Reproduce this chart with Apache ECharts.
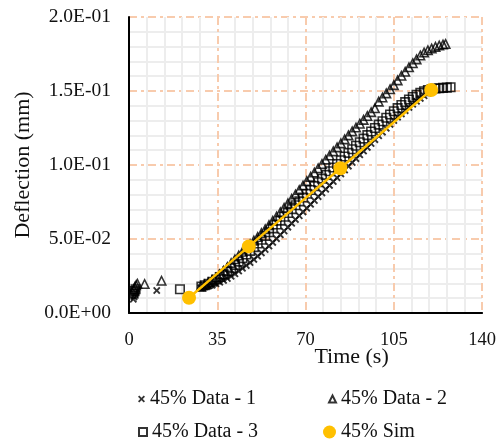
<!DOCTYPE html>
<html>
<head>
<meta charset="utf-8">
<script src="https://cdn.jsdelivr.net/npm/echarts@6/dist/echarts.min.js"></script>
<style>
html,body{margin:0;padding:0;background:#fff;}
#chart{width:499px;height:445px;}
</style>
</head>
<body>
<div id="chart"></div>
<script>
// ---- data ----
var xTicks = [0, 35, 70, 105, 140];
var yTicks = [0, 0.05, 0.10, 0.15, 0.20];

var data1Time = [1.7, 2.0, 2.3, 2.6, 11.0,
  28.5,30,31.5,33,34.5,36,37.5,39,40.5,42,43.5,45,46.5,48,49.5,51,52.5,54,55.5,57,58.5,60,61.5,63,64.5,66,67.5,69,70.5,72,73.5,75,76.5,78,79.5,81,82.5,84,85.5,87,88.5,90,91.5,93,94.5,96,97.5,99,100.5,102,103.5,105,106.5,108,109.5,111,112.5,114,115.5,117,118.5,120];
var data1Defl = [0.0093, 0.0108, 0.0125, 0.0140, 0.0152,
  0.0170,0.0175,0.0181,0.0188,0.0197,0.0208,0.0220,0.0233,0.0248,0.0265,0.0283,0.0302,0.0321,0.0341,0.0362,0.0384,0.0406,0.0429,0.0452,0.0477,0.0502,0.0528,0.0554,0.0580,0.0606,0.0631,0.0657,0.0683,0.0708,0.0734,0.0760,0.0786,0.0811,0.0836,0.0862,0.0888,0.0914,0.0940,0.0966,0.0992,0.1017,0.1043,0.1069,0.1094,0.1119,0.1145,0.1171,0.1197,0.1222,0.1248,0.1274,0.1300,0.1323,0.1345,0.1367,0.1389,0.1410,0.1430,0.1450,0.1468,0.1485,0.1500];

var data2Time = [1.9, 2.3, 2.8, 3.3, 6.2, 12.9,
  28.5,30,31.5,33,34.5,36,37.5,39,40.5,42,43.5,45,46.5,48,49.5,51,52.5,54,55.5,57,58.5,60,61.5,63,64.5,66,67.5,69,70.5,72,73.5,75,76.5,78,79.5,81,82.5,84,85.5,87,88.5,90,91.5,93,94.5,96,97.5,99,100.5,102,103.5,105,106.5,108,109.5,111,112.5,114,115.5,117,118.5,120,121.5,123,124.5,125.5];
var data2Defl = [0.0160, 0.0175, 0.0188, 0.0198, 0.0196, 0.0218,
  0.0180,0.0192,0.0206,0.0222,0.0240,0.0262,0.0286,0.0311,0.0337,0.0363,0.0389,0.0414,0.0439,0.0464,0.0489,0.0514,0.0540,0.0566,0.0594,0.0623,0.0652,0.0681,0.0711,0.0741,0.0771,0.0801,0.0831,0.0861,0.0891,0.0920,0.0949,0.0978,0.1007,0.1036,0.1064,0.1092,0.1119,0.1146,0.1173,0.1200,0.1227,0.1253,0.1279,0.1305,0.1331,0.1357,0.1383,0.1428,0.1456,0.1484,0.1512,0.1540,0.1572,0.1603,0.1630,0.1660,0.1688,0.1714,0.1740,0.1760,0.1775,0.1787,0.1798,0.1807,0.1814,0.1818];

var data3Time = [1.8, 2.2, 2.6, 20.2,
  28.7,30,31.5,33,34.5,36,37.5,39,40.5,42,43.5,45,46.5,48,49.5,51,52.5,54,55.5,57,58.5,60,61.5,63,64.5,66,67.5,69,70.5,72,73.5,75,76.5,78,79.5,81,82.5,84,85.5,87,88.5,90,91.5,93,94.5,96,97.5,99,100.5,102,103.5,105,106.5,108,109.5,111,112.5,114,115.5,117,118.5,120,121.5,123,124.5,126,127.5];
var data3Defl = [0.0130, 0.0148, 0.0160, 0.0160,
  0.0178,0.0187,0.0198,0.0211,0.0226,0.0243,0.0261,0.0281,0.0302,0.0324,0.0347,0.0371,0.0395,0.0420,0.0445,0.0470,0.0495,0.0521,0.0546,0.0572,0.0598,0.0624,0.0650,0.0676,0.0702,0.0728,0.0754,0.0780,0.0806,0.0831,0.0857,0.0883,0.0908,0.0933,0.0958,0.0983,0.1007,0.1032,0.1057,0.1082,0.1106,0.1130,0.1154,0.1178,0.1202,0.1226,0.1250,0.1273,0.1296,0.1319,0.1341,0.1363,0.1384,0.1405,0.1425,0.1443,0.1459,0.1474,0.1487,0.1498,0.1507,0.1513,0.1517,0.1519,0.1521,0.1523,0.1525];

var simTime = [23.8, 47.5, 83.8, 119.8];
var simDefl = [0.0103, 0.0450, 0.0978, 0.1507];

var seriesNames = ['45% Data - 1', '45% Data - 2', '45% Data - 3', '45% Sim'];

function pairs(xs, ys){ var out=[]; for(var i=0;i<xs.length;i++) out.push([xs[i], ys[i]]); return out; }

var FONT = 'Liberation Serif';
var X_ICON = 'path://M0,1.8 L1.8,0 L5,3.2 L8.2,0 L10,1.8 L6.8,5 L10,8.2 L8.2,10 L5,6.8 L1.8,10 L0,8.2 L3.2,5 Z';
var ORANGE = '#F8CBAD';
var MINOR = '#EDEDED';

function sciLabel(v){
  var s = Number(v).toExponential(1);       // e.g. 1.5e-1
  var parts = s.split('e');
  var exp = parseInt(parts[1], 10);
  var sign = exp < 0 ? '-' : '+';
  var a = Math.abs(exp);
  return parts[0] + 'E' + sign + (a < 10 ? '0' + a : String(a));
}

var chart = echarts.init(document.getElementById('chart'), null, {renderer:'canvas'});

var legendBase = function(name, left, top, w, h, icon){
  return {
    data:[{name:name, icon:icon}],
    left:left, top:top, itemWidth:w, itemHeight:h, itemGap:0,
    textStyle:{fontFamily:FONT, fontSize:20, color:'#111'},
    selectedMode:false
  };
};

chart.setOption({
  animation:false,
  backgroundColor:'#fff',
  grid:{left:129, right:16, top:17, bottom:132, containLabel:false},
  legend:[
    legendBase(seriesNames[0], 133, 384, 7, 7, X_ICON),
    legendBase(seriesNames[1], 323, 384, 7, 7, 'triangle'),
    legendBase(seriesNames[2], 133, 417, 8, 8, 'rect'),
    legendBase(seriesNames[3], 318, 417, 13, 13, 'circle')
  ],
  xAxis:{
    type:'value', min:xTicks[0], max:xTicks[xTicks.length-1], interval:xTicks[1]-xTicks[0],
    name:'Time (s)', nameLocation:'middle', nameGap:33, nameMoveOverlap:false,
    nameTextStyle:{fontFamily:FONT, fontSize:22, color:'#111', padding:[0,0,0,92]},
    axisLine:{show:true, onZero:false, lineStyle:{color:'#000', width:2}},
    axisTick:{show:false},
    minorTick:{show:false, splitNumber:5},
    axisLabel:{fontFamily:FONT, fontSize:18.5, color:'#111', margin:18},
    splitLine:{show:true, lineStyle:{color:ORANGE, width:2, type:[8,4,3,4]}},
    minorSplitLine:{show:true, lineStyle:{color:MINOR, width:2}}
  },
  yAxis:{
    type:'value', min:yTicks[0], max:yTicks[yTicks.length-1], interval:yTicks[1]-yTicks[0],
    name:'Deflection (mm)', nameLocation:'middle', nameGap:95, nameRotate:90, nameMoveOverlap:false,
    nameTextStyle:{fontFamily:FONT, fontSize:22, color:'#111'},
    axisLine:{show:true, onZero:false, lineStyle:{color:'#000', width:2}},
    axisTick:{show:false},
    minorTick:{show:false, splitNumber:5},
    axisLabel:{fontFamily:FONT, fontSize:19.5, color:'#111', margin:18, formatter:sciLabel},
    splitLine:{show:true, lineStyle:{color:ORANGE, width:2, type:[8,4,3,4]}},
    minorSplitLine:{show:true, lineStyle:{color:MINOR, width:2}}
  },
  series:[
    {name:seriesNames[0], type:'scatter', data:pairs(data1Time, data1Defl),
     symbol:X_ICON, symbolSize:7.5, itemStyle:{color:'#000'}, z:2},
    {name:seriesNames[1], type:'scatter', data:pairs(data2Time, data2Defl),
     symbol:'triangle', symbolSize:8.5,
     itemStyle:{color:'rgba(0,0,0,0)', borderColor:'#000', borderWidth:1.6}, z:2},
    {name:seriesNames[2], type:'scatter', data:pairs(data3Time, data3Defl),
     symbol:'rect', symbolSize:8.5,
     itemStyle:{color:'rgba(0,0,0,0)', borderColor:'#000', borderWidth:1.6}, z:2},
    {name:seriesNames[3], type:'line', data:pairs(simTime, simDefl),
     symbol:'circle', symbolSize:14, showSymbol:true, smooth:0.1,
     lineStyle:{color:'#FFC000', width:2.5},
     itemStyle:{color:'#FFC000', borderWidth:0}, z:5}
  ]
});
</script>
</body>
</html>
